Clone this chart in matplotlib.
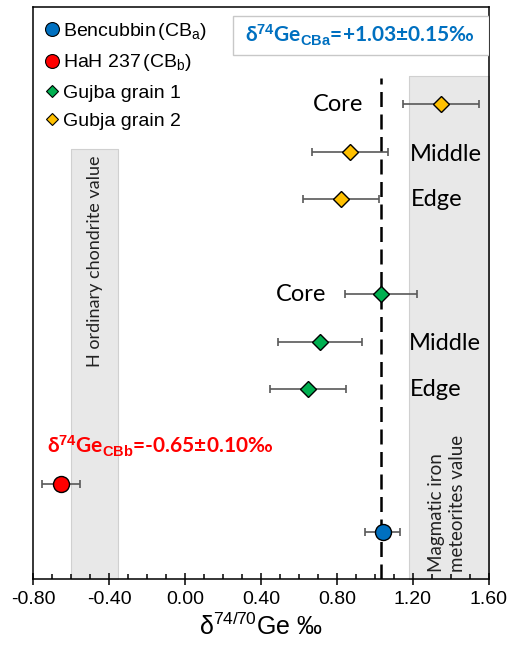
import matplotlib
matplotlib.use("Agg")
import matplotlib.pyplot as plt
from matplotlib.lines import Line2D
from matplotlib.patches import Rectangle
from matplotlib.ticker import MultipleLocator, FormatStrFormatter

plt.rcParams['font.family'] = ['Liberation Sans', 'DejaVu Sans']
plt.rcParams['mathtext.fontset'] = 'custom'
plt.rcParams['mathtext.rm'] = 'Liberation Sans'
plt.rcParams['mathtext.it'] = 'Liberation Sans:italic'
plt.rcParams['mathtext.bf'] = 'Liberation Sans:bold'

# bulk samples (row 0 = bottom)
bulk_names = ['Bencubbin$\\,$(CB$_\\mathrm{a}$)', 'HaH 237$\\,$(CB$_\\mathrm{b}$)']
bulk_vals = [1.04, -0.65]
bulk_err = [0.09, 0.10]
bulk_rows = [0, 1]
bulk_colors = ['#0070C0', '#FF0000']

# metal grains, zones from edge to core
zones = ['Edge', 'Middle', 'Core']
g1_vals = [0.65, 0.71, 1.03]
g1_err = [0.20, 0.22, 0.19]
g1_rows = [3, 4, 5]
g2_vals = [0.82, 0.87, 1.35]
g2_err = [0.20, 0.20, 0.20]
g2_rows = [7, 8, 9]
grain_names = ['Gujba grain 1', 'Gubja grain 2']
grain_colors = ['#00B050', '#FFC000']

cba_mean, cba_err = 1.03, 0.15
cbb_mean, cbb_err = -0.65, 0.10
h_chondrite = (-0.60, -0.35)
magmatic_iron = (1.18, 1.60)

calibri = ['Lato', 'DejaVu Sans']
ebar = dict(ecolor='#595959', elinewidth=1.2, capsize=3, capthick=1.2, linestyle='none')

fig = plt.figure(figsize=(5.09, 6.51), dpi=100)
ax = fig.add_axes([0.0648, 0.1106, 0.8959, 0.8786])
ax.set_xlim(-0.8, 1.6)
ax.set_ylim(-1, 11.05)

# reference ranges
ax.fill_betweenx([-1, 8.05], *h_chondrite, facecolor='#E8E8E8', edgecolor='#D0D0D0', lw=0.8, zorder=0)
ax.fill_betweenx([-1, 9.6], *magmatic_iron, facecolor='#E8E8E8', edgecolor='#D0D0D0', lw=0.8, zorder=0)
ax.text(sum(h_chondrite) / 2, 5.7, 'H ordinary chondrite value', rotation=90,
        ha='center', va='center', fontsize=13, family=calibri, color='#222222')
ax.text(sum(magmatic_iron) / 2 - 0.01, -0.86, 'Magmatic iron\nmeteorites value', rotation=90,
        ha='center', va='bottom', multialignment='left', fontsize=13.5, linespacing=1.3,
        family=calibri, color='#222222')

ax.plot([cba_mean, cba_mean], [-1, 9.55], color='black', lw=1.8, ls=(0, (6, 3)), zorder=1)

for v, e, r, c in zip(bulk_vals, bulk_err, bulk_rows, bulk_colors):
    ax.errorbar(v, r, xerr=e, **ebar, zorder=2)
    ax.plot(v, r, 'o', ms=11.5, mfc=c, mec='black', mew=1, zorder=3)

for vals, errs, rows, c in [(g1_vals, g1_err, g1_rows, grain_colors[0]),
                            (g2_vals, g2_err, g2_rows, grain_colors[1])]:
    ax.errorbar(vals, rows, xerr=errs, **ebar, zorder=2)
    ax.plot(vals, rows, 'D', ms=8, mfc=c, mec='black', mew=1, ls='none', zorder=3)

# zone labels
ax.text(0.937, g2_rows[2], zones[2], ha='right', va='center', fontsize=17, family=calibri)
ax.text(1.184, g2_rows[1] - 0.05, zones[1], ha='left', va='center', fontsize=17, family=calibri)
ax.text(1.19, g2_rows[0], zones[0], ha='left', va='center', fontsize=17, family=calibri)
ax.text(0.746, g1_rows[2], zones[2], ha='right', va='center', fontsize=17, family=calibri)
ax.text(1.18, g1_rows[1] - 0.04, zones[1], ha='left', va='center', fontsize=17, family=calibri)
ax.text(1.184, g1_rows[0], zones[0], ha='left', va='center', fontsize=17, family=calibri)

# mean value annotations
ax.add_patch(Rectangle((0.4386, 0.916), 0.5614, 0.068, transform=ax.transAxes,
                       facecolor='white', edgecolor='#C8C8C8', lw=1, zorder=4))
ax.text(0.717, 0.951, 'δ$^{\\mathbf{74}}$Ge$_{\\mathbf{CBa}}$=+%.2f±%.2f‰' % (cba_mean, cba_err),
        transform=ax.transAxes, ha='center', va='center', fontsize=15, fontweight='bold',
        family=calibri, color='#0070C0', zorder=5)
ax.text(-0.726, 1.8, 'δ$^{\\mathbf{74}}$Ge$_{\\mathbf{CBb}}$=%.2f±%.2f‰' % (cbb_mean, cbb_err),
        ha='left', va='center', fontsize=15, fontweight='bold', family=calibri,
        color='#FF0000', zorder=5)

# legend
handles = [Line2D([], [], marker='o', ls='none', ms=10, mfc=c, mec='black', mew=0.8)
           for c in bulk_colors]
handles += [Line2D([], [], marker='D', ls='none', ms=6, mfc=c, mec='black', mew=0.8)
            for c in grain_colors]
ax.legend(handles, bulk_names + grain_names, loc='upper left', bbox_to_anchor=(0.0, 1.0),
          frameon=False, fontsize=14, handlelength=0.6, handletextpad=0.25,
          labelspacing=0.55, borderaxespad=0.3)

ax.xaxis.set_major_locator(MultipleLocator(0.4))
ax.xaxis.set_minor_locator(MultipleLocator(0.1))
ax.xaxis.set_major_formatter(FormatStrFormatter('%.2f'))
ax.tick_params(axis='x', which='major', direction='inout', length=8.6, width=1.1,
               labelsize=14, pad=4)
ax.tick_params(axis='x', which='minor', direction='in', length=3.5, width=1.1)
ax.set_yticks([])
for s in ax.spines.values():
    s.set_linewidth(1.1)
ax.set_xlabel('δ$^{74/70}$Ge ‰', fontsize=18, labelpad=4)

fig.savefig('out.png', dpi=100)
